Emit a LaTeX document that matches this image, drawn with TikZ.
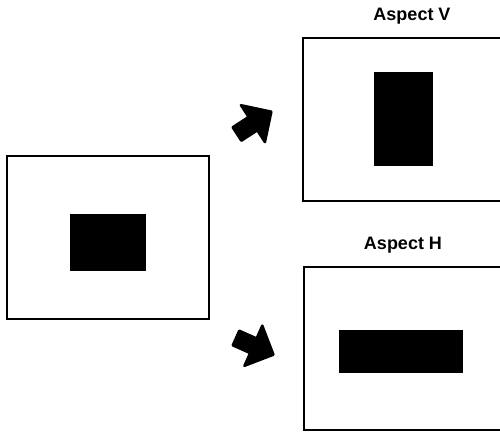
\documentclass[tikz,border=0pt]{standalone}
\usepackage{fontspec}
\setmainfont{Liberation Sans}
\usepackage{tikz}
\usetikzlibrary{positioning}

\begin{document}
\begin{tikzpicture}[
    x=1pt, y=-1pt,
    frame/.style={draw, line width=2pt, minimum width=202pt, minimum height=163pt, inner sep=0pt},
    block/.style={fill=black, inner sep=0pt},
    aspectlabel/.style={inner sep=0pt, font=\bfseries\fontsize{18}{22}\selectfont},
    bigarrow/.style={fill=black, draw=black, line width=2.5pt, line join=round}
]
\def \shaft{8}
\def \head{22}
\def \alen{41}
\useasboundingbox (0,0) rectangle (500,432);
\clip (0,0) rectangle (500,432);
\fill[white] (0,0) rectangle (500,432);
% Original picture
\node[frame] (frameorig) at (108,237.5) {};
\node[block, minimum width=76pt, minimum height=57pt] (blockorig) at (108,242.5) {};
% Aspect V
\node[aspectlabel] (labelv) at (412,16) {Aspect V};
\node[frame] (framev) at (404,119.5) {};
\node[block, minimum width=59pt, minimum height=94pt] (blockv) at (403.5,119) {};
% Aspect H
\node[aspectlabel] (labelh) at (403,245) {Aspect H};
\node[frame] (frameh) at (405,348.5) {};
\node[block, minimum width=124pt, minimum height=43pt] (blockh) at (401,351.5) {};
% Arrows
\coordinate (tailv) at (237,134);
\coordinate (tailh) at (236,338);
\foreach \tail/\ang in {tailv/33, tailh/-24}
  \filldraw[bigarrow, shift={(\tail)}, rotate=\ang]
    (0,-\shaft) -- (\alen-\head,-\shaft) -- (\alen-\head,-\head) -- (\alen,0)
    -- (\alen-\head,\head) -- (\alen-\head,\shaft) -- (0,\shaft) -- cycle;
\end{tikzpicture}
\end{document}
